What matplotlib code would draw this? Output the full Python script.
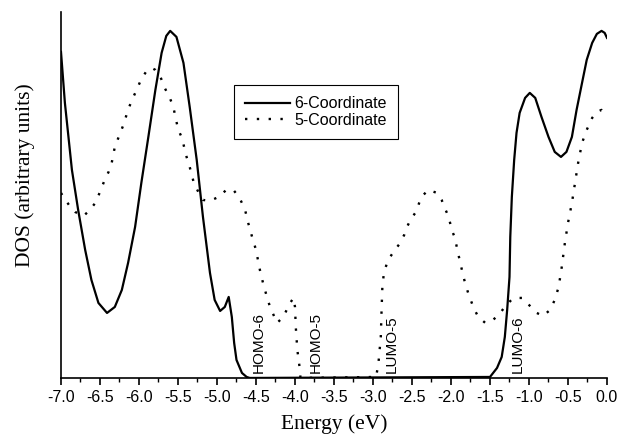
import matplotlib
matplotlib.use("Agg")
import matplotlib.pyplot as plt
from matplotlib.ticker import MultipleLocator

# DOS curves (energy in eV, DOS in arbitrary units)
e6 = [-7.0, -6.95, -6.86, -6.78, -6.69, -6.61, -6.52, -6.41, -6.31, -6.22,
      -6.14, -6.05, -5.97, -5.88, -5.79, -5.71, -5.65, -5.60, -5.52, -5.43,
      -5.35, -5.26, -5.18, -5.09, -5.03, -4.96, -4.90, -4.85, -4.81, -4.78,
      -4.75, -4.68, -4.62, -4.58,
      -1.50, -1.41, -1.35, -1.31, -1.28, -1.25, -1.24, -1.22, -1.19, -1.16,
      -1.12, -1.05, -0.99, -0.92, -0.84, -0.75, -0.67, -0.59, -0.52, -0.45,
      -0.39, -0.32, -0.26, -0.19, -0.13, -0.07, -0.03, 0.0]
dos6 = [326, 275, 208, 168, 128, 98, 75, 65, 71, 88,
        115, 151, 195, 241, 288, 325, 342, 347, 341, 315,
        271, 218, 161, 105, 78, 67, 71, 81, 61, 35,
        18, 5, 1, 0,
        1, 10, 21, 41, 68, 101, 141, 181, 218, 245,
        265, 280, 285, 280, 261, 241, 226, 221, 226, 241,
        268, 295, 318, 335, 344, 347, 345, 340]

e5 = [-7.0, -6.97, -6.88, -6.82, -6.71, -6.63, -6.56, -6.50, -6.44, -6.39,
      -6.35, -6.31, -6.24, -6.20, -6.14, -6.09, -6.03, -5.97, -5.91, -5.84,
      -5.79, -5.73, -5.67, -5.60, -5.56, -5.50, -5.45, -5.39, -5.35, -5.30,
      -5.24, -5.18, -5.09, -4.98, -4.88, -4.79, -4.71, -4.64, -4.60, -4.55,
      -4.50, -4.45, -4.41, -4.36, -4.32, -4.23, -4.15, -4.07, -4.02, -4.00,
      -3.99, -3.97, -3.94, -3.93,
      -2.96, -2.93, -2.90, -2.89, -2.88, -2.86, -2.82, -2.78, -2.72, -2.66,
      -2.60, -2.57, -2.52, -2.45, -2.38, -2.29, -2.18, -2.12, -2.08, -2.03,
      -1.99, -1.95, -1.91, -1.86, -1.82, -1.78, -1.71, -1.65, -1.56, -1.46,
      -1.37, -1.29, -1.20, -1.09, -1.00, -0.90, -0.82, -0.73, -0.67, -0.62,
      -0.58, -0.54, -0.50, -0.45, -0.41, -0.37, -0.32, -0.26, -0.19, -0.13,
      -0.07, 0.0]
dos5 = [185, 181, 171, 166, 162, 168, 175, 186, 198, 206,
        215, 231, 245, 253, 268, 278, 288, 299, 306, 310,
        308, 302, 290, 279, 271, 249, 240, 221, 211, 196,
        186, 178, 177, 181, 188, 188, 180, 168, 155, 141,
        128, 108, 95, 81, 71, 55, 61, 74, 80, 71,
        51, 28, 10, 0,
        1, 15, 41, 68, 91, 105, 115, 121, 128, 134,
        143, 150, 158, 166, 181, 188, 185, 178, 170, 161,
        148, 140, 125, 108, 95, 85, 70, 61, 55, 58,
        65, 73, 80, 80, 73, 65, 62, 68, 78, 91,
        111, 135, 155, 175, 195, 215, 235, 248, 260, 266,
        268, 260]

series_labels = ["6-Coordinate", "5-Coordinate"]
level_names = ["HOMO-6", "HOMO-5", "LUMO-5", "LUMO-6"]
level_pos = [-4.47, -3.74, -2.76, -1.14]

serif = ["Liberation Serif", "DejaVu Serif"]
sans = ["Liberation Sans", "DejaVu Sans"]

fig = plt.figure(figsize=(6.18, 4.40), dpi=100)
ax = fig.add_axes([0.0987, 0.141, 0.8835, 0.832])

ax.plot(e6, dos6, color="black", lw=1.6, label=series_labels[0])
ax.plot(e5, dos5, color="black", lw=1.7, linestyle=(0, (1, 4)),
        label=series_labels[1])

for name, x in zip(level_names, level_pos):
    ax.text(x, 5, name, rotation=90, ha="center", va="bottom",
            fontsize=11, family=sans)

ax.set_xlim(-7.0, 0.0)
ax.set_ylim(0, 366)
ax.xaxis.set_major_locator(MultipleLocator(0.5))
ax.xaxis.set_minor_locator(MultipleLocator(0.25))
ax.tick_params(axis="x", which="major", direction="out", length=5,
               width=1.2, labelsize=11.5, pad=4)
ax.tick_params(axis="x", which="minor", direction="out", length=3, width=1.0)
ax.set_xticks(ax.get_xticks())
ax.set_xticklabels([f"{v:.1f}" for v in ax.get_xticks()], family=sans)
ax.set_xlim(-7.0, 0.0)
ax.set_yticks([])

ax.spines["top"].set_visible(False)
ax.spines["right"].set_visible(False)
ax.spines["left"].set_linewidth(1.2)
ax.spines["bottom"].set_linewidth(1.2)

ax.set_xlabel("Energy (eV)", family=serif, fontsize=15.5, labelpad=6)
ax.set_ylabel("DOS (arbitrary units)", family=serif, fontsize=15.5)
ax.yaxis.set_label_coords(-0.048, 0.555)

leg = ax.legend(loc="upper left", bbox_to_anchor=(0.317, 0.80), frameon=True,
                fancybox=False, edgecolor="black", framealpha=1,
                prop={"family": sans, "size": 11.5}, handlelength=2.8,
                handletextpad=0.25, borderpad=0.7, labelspacing=0.1,
                borderaxespad=0)
leg.get_frame().set_linewidth(0.8)

fig.savefig("out.png", dpi=100)
